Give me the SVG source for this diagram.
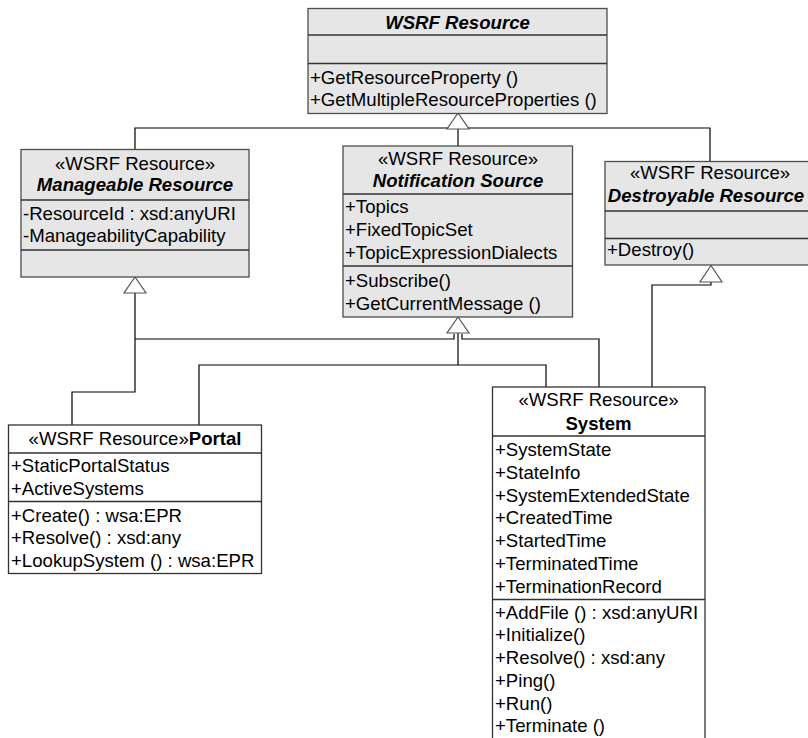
<svg xmlns="http://www.w3.org/2000/svg" width="808" height="738" viewBox="0 0 808 738">
<style>
.box{fill:#e6e6e6;stroke:#4d4d4d;stroke-width:1.3}
.wbox{fill:#ffffff;stroke:#333333;stroke-width:1.3}
.sep{stroke:#333333;stroke-width:1.3}
text{font-family:"Liberation Sans",Arial,sans-serif;font-size:18.6px;fill:#000}
.c{text-anchor:middle}
.bi{font-weight:bold;font-style:italic}
.b{font-weight:bold}
.conn{fill:none;stroke:#000;stroke-width:1.2}
.tri{fill:#fff;stroke:#555;stroke-width:1.2}
</style>
<rect width="808" height="738" fill="#fff"/>
<g id="connectors">
<polyline class="conn" points="135,149 135,128 710,128 710,161"/>
<line class="conn" x1="458" y1="129" x2="458" y2="146"/>
<polyline class="conn" points="135,293 135,392 72,392 72,425"/>
<polyline class="conn" points="135,339 454,339 454,334"/>
<polyline class="conn" points="462,334 462,339 599,339 599,387"/>
<line class="conn" x1="458" y1="333" x2="458" y2="365"/>
<polyline class="conn" points="199,425 199,365 546,365 546,387"/>
<polyline class="conn" points="652,387 652,285 711,285 711,282"/>
<polygon class="tri" points="458,113 447,129 469,129"/>
<polygon class="tri" points="135,277 124,293 146,293"/>
<polygon class="tri" points="458,317 447,333 469,333"/>
<polygon class="tri" points="711,265.5 700,282 722,282"/>
</g>
<g id="wsrf-resource">
<rect class="box" x="308" y="8.5" width="299" height="105"/>
<line class="sep" x1="308" y1="35" x2="607" y2="35"/>
<line class="sep" x1="308" y1="63.5" x2="607" y2="63.5"/>
<text class="c bi" x="457.5" y="29">WSRF Resource</text>
<text x="310" y="83.5">+GetResourceProperty ()</text>
<text x="310" y="106">+GetMultipleResourceProperties ()</text>
</g>
<g id="manageable-resource">
<rect class="box" x="21" y="149.5" width="228" height="127.5"/>
<line class="sep" x1="21" y1="200" x2="249" y2="200"/>
<line class="sep" x1="21" y1="250" x2="249" y2="250"/>
<text class="c" x="135" y="170">«WSRF Resource»</text>
<text class="c bi" x="135" y="191">Manageable Resource</text>
<text x="23" y="219.5">-ResourceId : xsd:anyURI</text>
<text x="23" y="242">-ManageabilityCapability</text>
</g>
<g id="notification-source">
<rect class="box" x="343" y="146" width="229.5" height="171"/>
<line class="sep" x1="343" y1="194" x2="572.5" y2="194"/>
<line class="sep" x1="343" y1="266" x2="572.5" y2="266"/>
<text class="c" x="458" y="165">«WSRF Resource»</text>
<text class="c bi" x="458" y="186.5">Notification Source</text>
<text x="345" y="213">+Topics</text>
<text x="345" y="236">+FixedTopicSet</text>
<text x="345" y="258.5">+TopicExpressionDialects</text>
<text x="345" y="287">+Subscribe()</text>
<text x="345" y="309.5">+GetCurrentMessage ()</text>
</g>
<g id="destroyable-resource">
<rect class="box" x="605" y="161.5" width="212" height="103.5"/>
<line class="sep" x1="605" y1="211" x2="817" y2="211"/>
<line class="sep" x1="605" y1="238.5" x2="817" y2="238.5"/>
<text class="c" x="710" y="178.5">«WSRF Resource»</text>
<text class="c bi" x="706" y="202">Destroyable Resource</text>
<text x="607" y="256">+Destroy()</text>
</g>
<g id="portal">
<rect class="wbox" x="8.5" y="425" width="253" height="148.5"/>
<line class="sep" x1="8.5" y1="453" x2="261.5" y2="453"/>
<line class="sep" x1="8.5" y1="501.5" x2="261.5" y2="501.5"/>
<text class="c" x="135" y="445">«WSRF Resource»<tspan class="b">Portal</tspan></text>
<text x="11" y="472">+StaticPortalStatus</text>
<text x="11" y="494.5">+ActiveSystems</text>
<text x="11" y="522">+Create() : wsa:EPR</text>
<text x="11" y="544">+Resolve() : xsd:any</text>
<text x="11" y="567">+LookupSystem () : wsa:EPR</text>
</g>
<g id="system">
<rect class="wbox" x="492.5" y="387" width="212.5" height="360"/>
<line class="sep" x1="492.5" y1="436" x2="705" y2="436"/>
<line class="sep" x1="492.5" y1="599.5" x2="705" y2="599.5"/>
<text class="c" x="598.5" y="406">«WSRF Resource»</text>
<text class="c b" x="598.5" y="429.5">System</text>
<text x="495" y="456">+SystemState</text>
<text x="495" y="479">+StateInfo</text>
<text x="495" y="501.5">+SystemExtendedState</text>
<text x="495" y="524">+CreatedTime</text>
<text x="495" y="547">+StartedTime</text>
<text x="495" y="569.5">+TerminatedTime</text>
<text x="495" y="592.5">+TerminationRecord</text>
<text x="495" y="618.5">+AddFile () : xsd:anyURI</text>
<text x="495" y="641">+Initialize()</text>
<text x="495" y="664">+Resolve() : xsd:any</text>
<text x="495" y="686.5">+Ping()</text>
<text x="495" y="709.5">+Run()</text>
<text x="495" y="732">+Terminate ()</text>
</g>
</svg>
